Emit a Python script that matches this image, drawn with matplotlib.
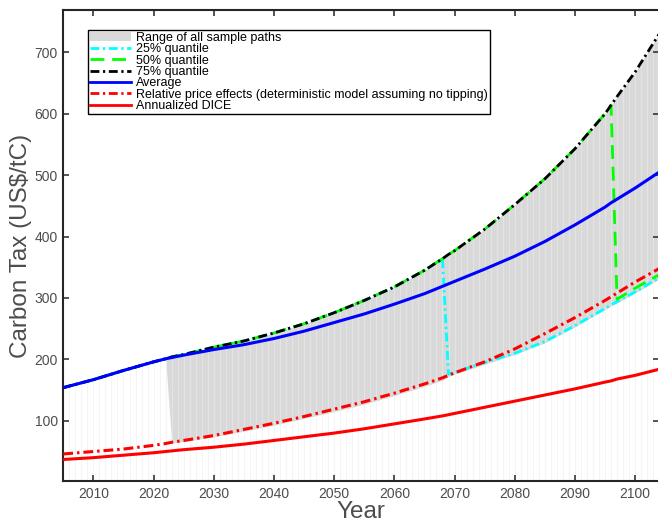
import matplotlib
matplotlib.use('Agg')
from matplotlib import pyplot as plt
from matplotlib.patches import Patch
import numpy as np

plt.rcParams['font.family'] = ['Liberation Sans', 'DejaVu Sans']

# time grid shared by all series
years = [2005, 2010, 2015, 2020, 2022, 2023, 2025, 2030, 2035, 2040, 2045, 2050, 2055,
         2060, 2065, 2068, 2069, 2070, 2075, 2080, 2085, 2090, 2095, 2096, 2097, 2100, 2104]

# upper / lower edge of the sample paths
range_hi = [154, 167, 182, 196, 201, 204, 208, 220, 230, 243, 258, 276, 296,
            318, 345, 364, 371, 377, 412, 452, 494, 543, 600, 614, 628, 668, 730]
range_lo = [154, 167, 182, 196, 201, 64, 66, 74, 83, 93, 104, 115, 127,
            141, 156, 166, 172, 176, 192, 208, 227, 253, 281, 287, 292, 308, 331]

q25 = [154, 167, 182, 196, 201, 204, 208, 220, 230, 243, 258, 276, 296,
       318, 345, 364, 176, 179, 195, 210, 229, 255, 283, 289, 294, 310, 333]
q50 = [154, 167, 182, 196, 201, 204, 208, 220, 230, 243, 258, 276, 296,
       318, 345, 364, 371, 377, 412, 452, 494, 543, 600, 614, 298, 316, 338]
q75 = [154, 167, 182, 196, 201, 204, 208, 220, 230, 243, 258, 276, 296,
       318, 345, 364, 371, 377, 412, 452, 494, 543, 600, 614, 628, 668, 730]
average = [154, 167, 182, 196, 201, 203, 207, 216, 224, 234, 246, 260, 274,
           290, 307, 319, 323, 327, 347, 368, 392, 419, 448, 455, 461, 479, 505]
price_effects = [46, 50, 54, 60, 63, 65, 68, 76, 86, 96, 107, 119, 131,
                 145, 160, 170, 174, 178, 196, 217, 242, 268, 296, 302, 308, 326, 348]
dice = [37, 40, 44, 48, 50, 51, 53, 57, 62, 68, 74, 80, 87,
        95, 103, 108, 110, 112, 122, 132, 142, 152, 163, 165, 168, 174, 184]

x_ticks = [2010, 2020, 2030, 2040, 2050, 2060, 2070, 2080, 2090, 2100]
y_ticks = [100, 200, 300, 400, 500, 600, 700]

fig = plt.figure(figsize=(6.58, 5.21), dpi=100)
ax = fig.add_axes([0.0962, 0.0768, 0.9056, 0.904])
ymin, ymax = 2, 769

# faint yearly stripes (edges of the area patches)
stripe_x = np.arange(2005, 2105)
ax.vlines(stripe_x, ymin, ymax, color='#f0f0f0', linewidth=0.7, zorder=0)
ax.fill_between(years, range_hi, ymax, color='white', linewidth=0, zorder=0.5)
ax.fill_between(years[4:], range_lo[4:], range_hi[4:], color='#d9d9d9',
                linewidth=0, zorder=1)
ax.vlines(stripe_x, ymin, ymax, color='white', alpha=0.3, linewidth=0.7, zorder=1.2)

dashdot = (0, (3.2, 1.3, 0.8, 1.3))
ax.plot(years, q25, color='#00ffff', lw=2, linestyle=dashdot, zorder=2)
ax.plot(years, q50, color='#00ff00', lw=2, linestyle=(0, (5, 2.8)), zorder=3)
ax.plot(years, q75, color='black', lw=2, linestyle=dashdot, zorder=4)
ax.plot(years, average, color='#0000ff', lw=2.2, zorder=5)
ax.plot(years, price_effects, color='#ff0000', lw=2.2, linestyle=dashdot, zorder=6)
ax.plot(years, dice, color='#ff0000', lw=2.2, zorder=7)

ax.set_xlim(2005, 2104)
ax.set_ylim(ymin, ymax)
ax.set_xticks(x_ticks)
ax.set_yticks(y_ticks)
ax.tick_params(direction='in', length=4.5, width=1.1, top=True, right=True,
               labelsize=10, labelcolor='#4d4d4d', color='#262626', pad=4)
for s in ax.spines.values():
    s.set_color('#262626')
    s.set_linewidth(1.5)

ax.set_xlabel('Year', fontsize=17.5, color='#4d4d4d', labelpad=0)
ax.set_ylabel('Carbon Tax (US$/tC)', fontsize=17.5, color='#4d4d4d', labelpad=1.5)

handles = [
    Patch(facecolor='#d9d9d9', edgecolor='none'),
    plt.Line2D([], [], color='#00ffff', lw=2, linestyle=dashdot),
    plt.Line2D([], [], color='#00ff00', lw=2, linestyle=(0, (5, 2.8))),
    plt.Line2D([], [], color='black', lw=2, linestyle=dashdot),
    plt.Line2D([], [], color='#0000ff', lw=2),
    plt.Line2D([], [], color='#ff0000', lw=2, linestyle=dashdot),
    plt.Line2D([], [], color='#ff0000', lw=2),
]
labels = ['Range of all sample paths', '25% quantile', '50% quantile', '75% quantile',
          'Average', 'Relative price effects (deterministic model assuming no tipping)',
          'Annualized DICE']
leg = ax.legend(handles, labels, loc='upper left', bbox_to_anchor=(0.0414, 0.9575),
                borderaxespad=0, fontsize=9, labelspacing=-0.05, handlelength=3.3,
                handletextpad=0.4, borderpad=0.15, fancybox=False, framealpha=1,
                edgecolor='black')
leg.get_frame().set_linewidth(1)
leg.set_zorder(10)

fig.savefig('out.png', dpi=100)
